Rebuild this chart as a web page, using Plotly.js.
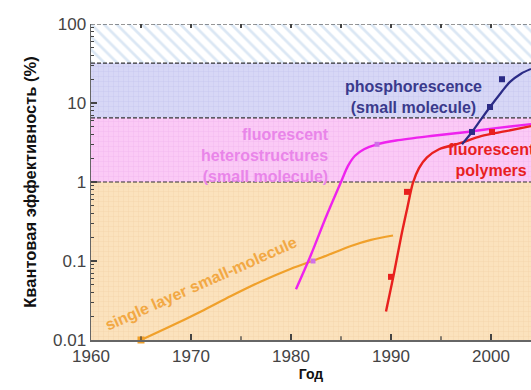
<!DOCTYPE html>
<html><head><meta charset="utf-8">
<script src="https://cdn.plot.ly/plotly-3.0.1.min.js"></script>
<style>html,body{margin:0;padding:0;background:#fff}#chart{width:531px;height:390px}</style>
</head><body><div id="chart"></div>
<script>
// Band limits (quantum efficiency %)
const bandLow  = [0.01, 1, 6.5, 32];
const bandHigh = [1, 6.5, 32, 100];
const bandFill = ['#fbe2bd', '#fbcaf6', '#d7d7f6', '#ffffff'];
const bandFg   = ['#f2cfa2', '#efb2ea', '#c2c2ea', '#dbe7f4'];
const bandShape= ['+', '+', '+', '\\'];
const xSpan = [1960, 2004];

// Curves
const orangeX = [1965, 1968, 1971, 1974, 1977, 1980, 1983, 1986, 1988, 1990.2];
const orangeY = [0.01, 0.015, 0.023, 0.036, 0.055, 0.08, 0.11, 0.155, 0.185, 0.21];
const magentaX = [1980.5, 1982, 1983.5, 1985, 1985.7, 1986.4, 1987.3, 1988.6, 1990.5, 1994.2, 1997.6, 2000.5, 2004];
const magentaY = [0.044, 0.12, 0.36, 1.0, 1.6, 2.15, 2.6, 3.0, 3.35, 3.85, 4.3, 4.8, 5.4];
const redX = [1989.5, 1990.3, 1991, 1991.6, 1992.2, 1992.8, 1993.6, 1994.8, 1996.9, 1999, 2001.5, 2004];
const redY = [0.023, 0.07, 0.2, 0.45, 0.98, 1.5, 2.05, 2.6, 3.1, 3.8, 4.4, 5.1];
const blueX = [1997.1, 1998.1, 1999, 1999.9, 2001, 2001.9, 2003, 2004];
const blueY = [3.0, 4.3, 6.2, 8.9, 13.5, 18.5, 23.5, 27];

// Measured points
const orangePtX = [1965];
const orangePtY = [0.01];
const magentaPtX = [1982.2, 1988.6];
const magentaPtY = [0.1, 3.0];
const redPtX = [1990, 1991.6, 2000.1];
const redPtY = [0.063, 0.75, 4.3];
const bluePtX = [1998.1, 1999.9, 2001.1];
const bluePtY = [4.3, 8.9, 20];

// Labels
const xTicks = [1960, 1970, 1980, 1990, 2000];
const yTicks = [0.01, 0.1, 1, 10, 100];
const yTickText = ['0.01', '0.1', '1', '10', '100'];
const yMinorTicks = [];
[0.01, 0.1, 1, 10].forEach(d => { for (let m = 2; m <= 9; m++) yMinorTicks.push(+(d * m).toPrecision(3)); });

const traces = [];
for (let i = 0; i < bandLow.length; i++) {
  traces.push({
    x: [xSpan[0], xSpan[1], xSpan[1], xSpan[0], xSpan[0]],
    y: [bandLow[i], bandLow[i], bandHigh[i], bandHigh[i], bandLow[i]],
    type: 'scatter', mode: 'lines', fill: 'toself',
    fillcolor: bandFill[i], line: {width: 0}, hoverinfo: 'skip', showlegend: false,
    fillpattern: {shape: bandShape[i], bgcolor: bandFill[i], fgcolor: bandFg[i],
                  size: bandShape[i] === '\\' ? 9 : 5, solidity: bandShape[i] === '\\' ? 0.3 : 0.12}
  });
}
// dashed boundaries
const bounds = [1, 6.5, 32, 100];
bounds.forEach(b => traces.push({
  x: xSpan, y: [b, b], type: 'scatter', mode: 'lines',
  line: {color: '#333', width: 1.2, dash: '4px,2px'}, hoverinfo: 'skip', showlegend: false
}));
// invisible trace to anchor the tick-only overlay axes
traces.push({x: xSpan, y: [1, 1], xaxis: 'x2', yaxis: 'y2', type: 'scatter', mode: 'lines',
  line: {width: 0, color: 'rgba(0,0,0,0)'}, hoverinfo: 'skip', showlegend: false});

function curve(x, y, color, w) {
  return {x, y, type: 'scatter', mode: 'lines', line: {color, width: w, shape: 'spline', smoothing: 0.9}, showlegend: false};
}
function pts(x, y, color, size) {
  return {x, y, type: 'scatter', mode: 'markers', marker: {color, size, symbol: 'square'}, showlegend: false, cliponaxis: false};
}
traces.push(curve(orangeX, orangeY, '#f0a02a', 2.2));
traces.push(curve(magentaX, magentaY, '#ee22ee', 2.4));
traces.push(curve(redX, redY, '#e8201e', 2.4));
traces.push(curve(blueX, blueY, '#2b2b86', 2.2));
traces.push(pts(orangePtX, orangePtY, '#f0a02a', 7));
traces.push(pts(magentaPtX, magentaPtY, '#d070e8', 5));
traces.push(pts(redPtX, redPtY, '#e8201e', 6));
traces.push(pts(bluePtX, bluePtY, '#2b2b86', 6));

const af = (c, s) => ({family: 'Liberation Sans, Arial, sans-serif', size: s, color: c, weight: 'bold'});
const layout = {
  width: 531, height: 390,
  margin: {l: 91, r: 0, t: 24, b: 50},
  paper_bgcolor: '#fff', plot_bgcolor: '#fff',
  font: {family: 'Liberation Sans, Arial, sans-serif', color: '#444'},
  xaxis: {
    range: xSpan, tickvals: xTicks, ticks: 'inside', ticklen: 6, tickcolor: '#444', tickwidth: 1.3,
    showline: true, linecolor: '#666', linewidth: 1.5, showgrid: false, zeroline: false,
    tickfont: {size: 17, color: '#444'},
    title: {text: 'Год', font: {size: 14, color: '#111', weight: 'bold'}, standoff: 4}
  },
  xaxis2: {
    overlaying: 'x', side: 'top', anchor: 'y2', range: xSpan, dtick: 5, tick0: 1960,
    ticks: 'inside', ticklen: 4, tickcolor: '#444', tickwidth: 1.3, showticklabels: false,
    showline: false, showgrid: false, zeroline: false, layer: 'above traces'
  },
  yaxis: {
    type: 'log', range: [-2, 2], tickvals: yTicks, ticktext: yTickText,
    ticks: 'inside', ticklen: 6, tickcolor: '#444', tickwidth: 1.3,
    showline: true, linecolor: '#666', linewidth: 1.5, showgrid: false, zeroline: false,
    tickfont: {size: 17, color: '#444'},
    title: {text: 'Квантовая эффективность (%)', font: {size: 16.5, color: '#111', weight: 'bold'}, standoff: 12}
  },
  yaxis2: {
    overlaying: 'y', side: 'left', anchor: 'x2', type: 'log', range: [-2, 2], tickvals: yMinorTicks,
    ticks: 'inside', ticklen: 3, tickcolor: '#444', tickwidth: 1.2, showticklabels: false,
    showline: false, showgrid: false, zeroline: false, layer: 'above traces'
  },
  shapes: xTicks.slice(0, 4).map(v => ({type: 'line', xref: 'x', yref: 'paper', x0: v + 5, x1: v + 5, y0: 0, y1: 0.012,
    line: {color: '#444', width: 1.3}})),
  annotations: [
    {xref: 'x', yref: 'paper', x: 1992.2, y: 0.77, text: 'phosphorescence<br>(small molecule)', showarrow: false,
     font: af('#3a3a8c', 16), align: 'center', xanchor: 'center', yanchor: 'middle'},
    {xref: 'x', yref: 'paper', x: 1984, y: 0.585, text: 'fluorescent<br>heterostructures<br>(small molecule)', showarrow: false,
     font: af('#e985e9', 16), align: 'right', xanchor: 'right', yanchor: 'middle'},
    {xref: 'x', yref: 'paper', x: 2000, y: 0.57, text: 'fluorescent<br>polymers', showarrow: false,
     font: af('#e8201e', 16), align: 'center', xanchor: 'center', yanchor: 'middle'},
    {xref: 'x', yref: 'paper', x: 1971.0, y: 0.178, text: 'single layer small-molecule', showarrow: false,
     font: af('#f2a844', 16), textangle: -24, xanchor: 'center', yanchor: 'middle'}
  ]
};
Plotly.newPlot('chart', traces, layout, {staticPlot: true, displayModeBar: false});
</script></body></html>
